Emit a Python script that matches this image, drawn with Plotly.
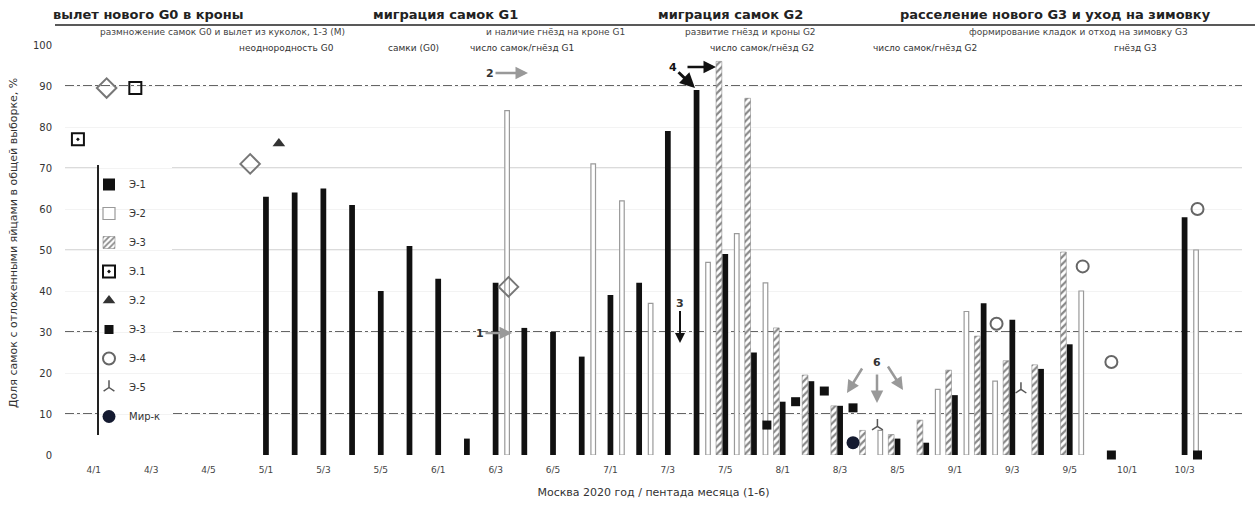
import plotly.graph_objects as go

# ---------------- data ----------------
# x position = pentad index (0 = first labelled pentad)
tick_k = list(range(0, 40, 2))
tick_labels = ["4/1", "4/3", "4/5", "5/1", "5/3", "5/5", "6/1", "6/3", "6/5", "7/1",
               "7/3", "7/5", "8/1", "8/3", "8/5", "9/1", "9/3", "9/5", "10/1", "10/3"]

e1_k = [6, 7, 8, 9, 10, 11, 12, 13, 14, 15, 16, 17, 18, 19, 20, 21, 22, 23, 24, 25, 26, 28, 29, 30, 31, 32, 33, 34, 38]
e1_v = [63, 64, 65, 61, 40, 51, 43, 4, 42, 31, 30, 24, 39, 42, 79, 89, 49, 25, 13, 18, 12, 4, 3, 14.6, 37, 33, 21, 27, 58]

e2_k = [14, 17, 18, 19, 21, 22, 23, 27, 29, 30, 31, 34, 38]
e2_v = [84, 71, 62, 37, 47, 54, 42, 6, 16, 35, 18, 40, 50]

e3_k = [22, 23, 24, 25, 26, 27, 28, 29, 30, 31, 32, 33, 34]
e3_v = [96, 87, 31, 19.5, 12, 6, 5, 8.5, 20.7, 29, 23, 22, 49.5]

sqd_k = [-1, 1]
sqd_v = [77, 89.5]
tri_k = [6]
tri_v = [76]
bsq_k = [23, 24, 25, 26, 35, 38]
bsq_v = [7.3, 13, 15.6, 11.5, 0, 0]
circ_k = [31, 34, 35, 38]
circ_v = [32, 46, 22.7, 60]
e5_k = [27, 32]
e5_v = [7, 16]
mir_k = [26]
mir_v = [3]
dia_k = [0, 5, 14]
dia_v = [89.5, 71, 41]

legend_names = ["Э-1", "Э-2", "Э-3", "Э.1", "Э.2", "Э-3", "Э-4", "Э-5", "Мир-к"]

row1 = ["вылет нового G0 в кроны", "миграция самок G1", "миграция самок G2",
        "расселение нового G3 и уход на зимовку"]
row2 = ["размножение самок G0 и вылет из куколок, 1-3 (М)", "и наличие гнёзд на кроне G1",
        "развитие гнёзд и кроны G2", "формирование кладок и отход на зимовку G3"]
row3 = ["неоднородность G0", "самки (G0)", "число самок/гнёзд G1",
        "число самок/гнёзд G2", "число самок/гнёзд G2", "гнёзд G3"]

# ---------------- style ----------------
OFF_BLACK, OFF_GRAY, OFF_HATCH, OFF_MARK = 0.0, 0.4, -0.22, 0.45
W_PX = 1255
H_PX = 505
ML, MR, MT, MB = 65, 13, 45, 50
PW = W_PX - ML - MR
PH = H_PX - MT - MB
XR = [-1, 40]


def px_x(px):
    return (px - ML) / PW


def px_y(py):
    return (H_PX - MB - py) / PH


def kx(px):
    return XR[0] + (px - ML) / PW * (XR[1] - XR[0])


def vy(py):
    return (H_PX - MB - py) / PH * 100


fig = go.Figure()

fig.add_trace(go.Bar(x=[k + OFF_BLACK for k in e1_k], y=e1_v, width=0.2,
                     marker=dict(color="#111", line=dict(width=0)),
                     name=legend_names[0], legendgroup="a"))
fig.add_trace(go.Bar(x=[k + OFF_GRAY for k in e2_k], y=e2_v, width=0.16,
                     marker=dict(color="white", line=dict(color="#9a9a9a", width=1.2)),
                     name=legend_names[1], legendgroup="b"))
fig.add_trace(go.Bar(x=[k + OFF_HATCH for k in e3_k], y=e3_v, width=0.2,
                     marker=dict(color="white",
                                 pattern=dict(shape="/", fgcolor="#111", bgcolor="white",
                                              size=5, solidity=0.45),
                                 line=dict(color="#777", width=0.5)),
                     name=legend_names[2], legendgroup="c"))

fig.add_trace(go.Scatter(x=[k + OFF_MARK for k in sqd_k], y=sqd_v, mode="markers",
                         marker=dict(symbol=["square-open-dot", "square-open"], size=12,
                                     color="#111", line=dict(width=2, color="#111")),
                         name=legend_names[3], legendgroup="d"))
fig.add_trace(go.Scatter(x=[k + OFF_MARK for k in tri_k], y=tri_v, mode="markers",
                         marker=dict(symbol="triangle-up", size=11, color="#333"),
                         name=legend_names[4], legendgroup="e"))
fig.add_trace(go.Scatter(x=[k + OFF_MARK for k in bsq_k], y=bsq_v, mode="markers",
                         marker=dict(symbol="square", size=9, color="#111"),
                         name=legend_names[5], legendgroup="f", cliponaxis=False))
fig.add_trace(go.Scatter(x=[k + OFF_MARK for k in circ_k], y=circ_v, mode="markers",
                         marker=dict(symbol="circle-open", size=12, color="#666",
                                     line=dict(width=2, color="#666")),
                         name=legend_names[6], legendgroup="g"))
fig.add_trace(go.Scatter(x=[k + 0.3 for k in e5_k], y=e5_v, mode="markers",
                         marker=dict(symbol="y-up-open", size=9, color="#555",
                                     line=dict(width=1.5, color="#555")),
                         name=legend_names[7], legendgroup="h"))
fig.add_trace(go.Scatter(x=[k + OFF_MARK for k in mir_k], y=mir_v, mode="markers",
                         marker=dict(symbol="circle", size=13, color="#141a30"),
                         name=legend_names[8], legendgroup="i"))
fig.add_trace(go.Scatter(x=[k + OFF_MARK for k in dia_k], y=dia_v, mode="markers",
                         marker=dict(symbol="diamond-open", size=15, color="#777",
                                     line=dict(width=2, color="#777")),
                         showlegend=False))

shapes = []
for val in (90, 30, 10):
    shapes.append(dict(type="line", xref="paper", yref="y", x0=0, x1=1, y0=val, y1=val,
                       line=dict(color="#333", width=1.5, dash="dashdot"), layer="below"))
for val in (70, 50):
    shapes.append(dict(type="line", xref="paper", yref="y", x0=0, x1=1, y0=val, y1=val,
                       line=dict(color="#cfcfcf", width=1.5), layer="below"))
# white panel behind legend
shapes.append(dict(type="rect", xref="paper", yref="paper", x0=px_x(99), x1=px_x(172),
                   y0=px_y(440), y1=px_y(165), fillcolor="white", line=dict(width=0),
                   layer="below"))
# header underline
shapes.append(dict(type="line", xref="paper", yref="paper", x0=px_x(55), x1=px_x(1255),
                   y0=px_y(25), y1=px_y(25), line=dict(color="#222", width=1.5)))
# legend left rule
shapes.append(dict(type="line", xref="paper", yref="paper", x0=px_x(98), x1=px_x(98),
                   y0=px_y(435), y1=px_y(165), line=dict(color="#222", width=2)))

ann = []
row1_c = [148, 445, 730, 1055]
row2_c = [222, 555, 750, 1078]
row3_c = [286, 413, 522, 762, 925, 1135]
for t, c in zip(row1, row1_c):
    ann.append(dict(text="<b>" + t + "</b>", x=px_x(c), y=px_y(15), xref="paper", yref="paper",
                    xanchor="center", yanchor="middle", showarrow=False,
                    font=dict(size=13, color="#222", family="DejaVu Sans")))
for t, c in zip(row2, row2_c):
    ann.append(dict(text=t, x=px_x(c), y=px_y(32), xref="paper", yref="paper",
                    xanchor="center", yanchor="middle", showarrow=False,
                    font=dict(size=9, color="#444", family="DejaVu Sans")))
for t, c in zip(row3, row3_c):
    ann.append(dict(text=t, x=px_x(c), y=px_y(48), xref="paper", yref="paper",
                    xanchor="center", yanchor="middle", showarrow=False,
                    font=dict(size=9, color="#333", family="DejaVu Sans")))

ann.append(dict(text="Доля самок с отложенными яйцами в общей выборке, %", x=px_x(13),
                y=px_y(243), xref="paper", yref="paper", textangle=-90, showarrow=False,
                xanchor="center", yanchor="middle", font=dict(size=11, color="#333")))

# numbered arrows
ann.append(dict(text="<b>1</b>", x=kx(512), y=vy(333), ax=-32, ay=0, showarrow=True,
                arrowhead=2, arrowwidth=2.5, arrowcolor="#999", font=dict(size=11, color="#333")))
ann.append(dict(text="<b>2</b>", x=kx(528), y=vy(73), ax=-38, ay=0, showarrow=True,
                arrowhead=2, arrowwidth=2.5, arrowcolor="#999", font=dict(size=11, color="#333")))
ann.append(dict(text="<b>3</b>", x=kx(680), y=vy(343), ax=0, ay=-40, showarrow=True,
                arrowhead=2, arrowwidth=2, arrowcolor="#111", font=dict(size=11, color="#333")))
ann.append(dict(text="<b>4</b>", x=kx(695), y=vy(88), ax=-22, ay=-21, showarrow=True,
                arrowhead=2, arrowwidth=3, arrowcolor="#111", font=dict(size=11, color="#111")))
ann.append(dict(text="", x=kx(716), y=vy(67), ax=-30, ay=0, showarrow=True,
                arrowhead=2, arrowwidth=2.5, arrowcolor="#111"))
ann.append(dict(text="<b>6</b>", x=kx(877), y=vy(362), showarrow=False,
                font=dict(size=11, color="#333")))
for hx, hy, ax_, ay_ in ((847, 393, 16, -26), (877, 403, 0, -30), (903, 390, -16, -25)):
    ann.append(dict(text="", x=kx(hx), y=vy(hy), ax=ax_, ay=ay_, showarrow=True,
                    arrowhead=2, arrowwidth=2.5, arrowcolor="#999"))

fig.update_layout(
    width=W_PX, height=H_PX,
    margin=dict(l=ML, r=MR, t=MT, b=MB),
    plot_bgcolor="white", paper_bgcolor="white",
    barmode="overlay",
    font=dict(family="DejaVu Sans", size=10, color="#333"),
    shapes=shapes, annotations=ann,
    legend=dict(x=px_x(89), y=px_y(170), xanchor="left", yanchor="top",
                bgcolor="rgba(0,0,0,0)", borderwidth=0, tracegroupgap=10,
                font=dict(size=10, color="#333"), itemwidth=30),
    xaxis=dict(range=XR, tickmode="array", tickvals=tick_k, ticktext=tick_labels,
               showgrid=False, zeroline=False, showline=False, ticks="",
               ticklabelstandoff=8, automargin=False,
               tickfont=dict(size=9, color="#444"),
               title=dict(text="Москва 2020 год / пентада месяца (1-6)", standoff=14,
                          font=dict(size=11, color="#333"))),
    yaxis=dict(range=[0, 100], dtick=10, showgrid=True, gridcolor="#f3f3f3",
               zeroline=False, showline=False, ticks="", ticklabelstandoff=12,
               automargin=False, tickfont=dict(size=10, color="#333")),
)

fig.write_html("out.html", config={"displayModeBar": False},
               post_script="document.body.style.margin='0px';")
